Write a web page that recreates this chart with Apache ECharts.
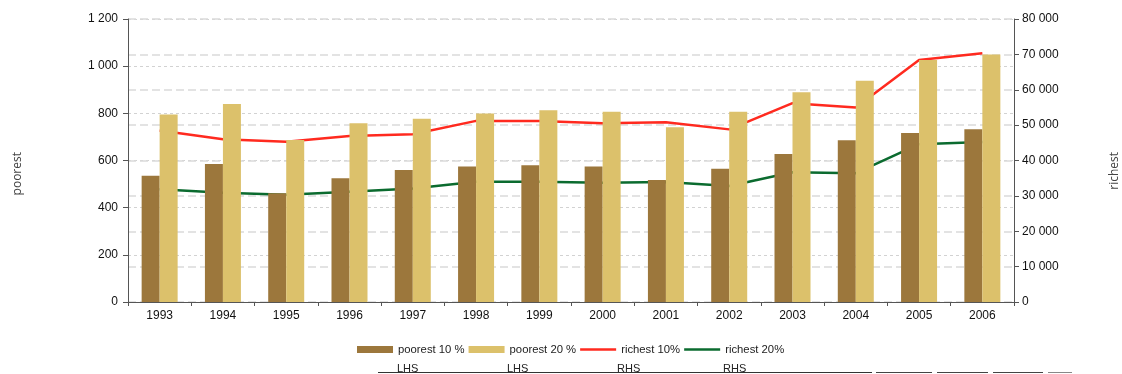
<!DOCTYPE html>
<html>
<head>
<meta charset="utf-8">
<script src="https://cdn.jsdelivr.net/npm/echarts@6/dist/echarts.min.js"></script>
<style>
html,body{margin:0;padding:0;background:#fff;}
#c{width:1122px;height:374px;}
</style>
</head>
<body>
<div id="c"></div>
<script>
var years = ['1993','1994','1995','1996','1997','1998','1999','2000','2001','2002','2003','2004','2005','2006'];
var poorest10 = [535, 585, 461, 525, 560, 575, 580, 575, 517, 565, 628, 686, 717, 732];
var poorest20 = [795, 840, 687, 758, 777, 799, 813, 807, 741, 807, 889, 938, 1026, 1050];
var richest10 = [48500, 46000, 45300, 46900, 47400, 51200, 51200, 50500, 50800, 48800, 56200, 55000, 68400, 70300];
var richest20 = [31900, 30900, 30300, 31200, 32100, 34000, 34000, 33700, 33900, 32800, 36700, 36400, 44600, 45200];
var seriesNames = ['poorest 10 %', 'poorest 20 %', 'richest 10%', 'richest 20%'];
var sideNotes = ['LHS', 'LHS', 'RHS', 'RHS'];
var leftTicks = [0, 1200, 200];
var rightTicks = [0, 80000, 10000];

function fmt(v){ return String(v).replace(/\B(?=(\d{3})+(?!\d))/g, ' '); }

var font = 'Liberation Sans, Arial, sans-serif';
var chart = echarts.init(document.getElementById('c'), null, {renderer:'canvas'});
var noteX = [397, 507, 617, 723];
var graphics = [
  {type:'text', left:12, top:152, rotation:Math.PI/2, style:{text:'poorest', font:'12px "Open Sans", sans-serif', fill:'#444'}},
  {type:'text', right:1, top:152, rotation:Math.PI/2, style:{text:'richest', font:'12px "Open Sans", sans-serif', fill:'#444'}},
  {type:'line', shape:{x1:378,y1:372.5,x2:872,y2:372.5}, style:{stroke:'#333', lineWidth:1}},
  {type:'line', shape:{x1:876,y1:372.5,x2:932,y2:372.5}, style:{stroke:'#444', lineWidth:1}},
  {type:'line', shape:{x1:937,y1:372.5,x2:988,y2:372.5}, style:{stroke:'#444', lineWidth:1}},
  {type:'line', shape:{x1:993,y1:372.5,x2:1043,y2:372.5}, style:{stroke:'#444', lineWidth:1}},
  {type:'line', shape:{x1:1048,y1:372.5,x2:1072,y2:372.5}, style:{stroke:'#888', lineWidth:1}}
];
sideNotes.forEach(function(t,i){
  graphics.push({type:'text', left:noteX[i], top:363, style:{text:t, font:'11px '+font, fill:'#222'}});
});

var lineIcon = 'path://M0,0H40V3H0Z';

chart.setOption({
  animation:false,
  textStyle:{fontFamily:font},
  grid:{left:128, right:108, top:19, bottom:72},
  legend:{
    left:357, top:344, padding:0, itemWidth:36, itemHeight:7, itemGap:4,
    textStyle:{fontSize:11.3, color:'#222', fontFamily:font},
    data:[
      {name:seriesNames[0], icon:'rect'},
      {name:seriesNames[1], icon:'rect'},
      {name:seriesNames[2], icon:lineIcon},
      {name:seriesNames[3], icon:lineIcon}
    ]
  },
  xAxis:{
    type:'category', data:years,
    axisLine:{lineStyle:{color:'#555'}},
    axisTick:{show:true, length:4, lineStyle:{color:'#555'}},
    axisLabel:{fontSize:12, color:'#111', margin:8, fontFamily:font}
  },
  yAxis:[
    {type:'value', min:leftTicks[0], max:leftTicks[1], interval:leftTicks[2],
     axisLine:{show:true, lineStyle:{color:'#555'}},
     axisTick:{show:true, length:5, lineStyle:{color:'#555'}},
     axisLabel:{fontSize:12, color:'#111', margin:10, formatter:fmt, fontFamily:font},
     splitLine:{show:true, lineStyle:{color:'#d2d2d2', type:[3,3], width:1}}
    },
    {type:'value', min:rightTicks[0], max:rightTicks[1], interval:rightTicks[2], position:'right',
     axisLine:{show:true, lineStyle:{color:'#555'}},
     axisTick:{show:true, length:5, lineStyle:{color:'#555'}},
     axisLabel:{fontSize:12, color:'#111', margin:8, formatter:fmt, fontFamily:font},
     splitLine:{show:true, lineStyle:{color:'#dadada', type:[8,4], width:1.5}}
    }
  ],
  series:[
    {name:seriesNames[0], type:'bar', data:poorest10, barWidth:18, barGap:'0%', z:3,
     itemStyle:{color:'#9C773C'}},
    {name:seriesNames[1], type:'bar', data:poorest20, barWidth:18, barGap:'0%', z:3,
     itemStyle:{color:'#DCC16B'}},
    {name:seriesNames[2], type:'line', yAxisIndex:1, data:richest10, symbol:'none', z:2,
     lineStyle:{color:'#FF2A1F', width:2.5}, itemStyle:{color:'#FF2A1F'}},
    {name:seriesNames[3], type:'line', yAxisIndex:1, data:richest20, symbol:'none', z:2,
     lineStyle:{color:'#0B6B2F', width:2.5}, itemStyle:{color:'#0B6B2F'}}
  ],
  graphic:graphics
});
</script>
</body>
</html>
